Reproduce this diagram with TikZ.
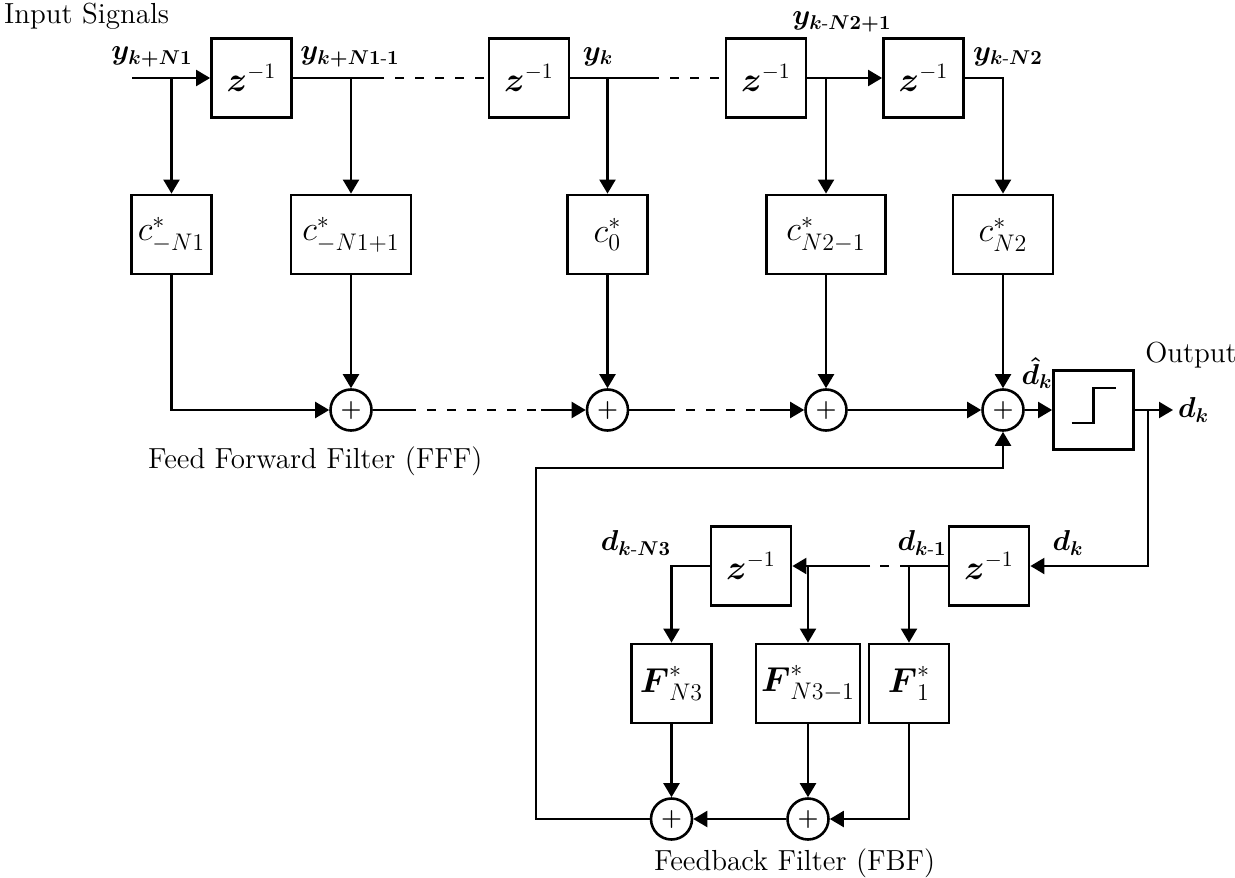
\documentclass[tikz,border=0pt]{standalone}
\usepackage{amsmath}
\usetikzlibrary{arrows.meta}

\begin{document}
\begin{tikzpicture}[
    x=0.5pt, y=-0.5pt,
    line width=1.1pt,
    arr/.style={-{Triangle[length=7pt,width=8pt]}},
    dashline/.style={dash pattern=on 4.5pt off 5.5pt},
    delay/.style={draw, line width=1.4pt, minimum width=40pt, minimum height=39.5pt, inner sep=0pt, font=\fontsize{16}{18}\selectfont},
    coef/.style={delay, minimum width=#1, font=\fontsize{17}{19}\selectfont},
    coef/.default=40pt,
    sum/.style={draw, circle, line width=1.3pt, minimum size=20.5pt, inner sep=0pt, font=\large\boldmath},
    lab/.style={font=\fontsize{14}{16}\selectfont\boldmath, inner sep=1pt},
    txt/.style={font=\fontsize{14.5}{17}\selectfont, inner sep=0pt}
  ]
  \useasboundingbox (0,0) rectangle (1235,877);

  % feed forward delay line
  \coordinate (in) at (132,78);
  \node[delay] (z1) at (251.5,78) {$\boldsymbol{z}^{-1}$};
  \node[delay] (z2) at (529,78) {$\boldsymbol{z}^{-1}$};
  \node[delay] (z3) at (766,78) {$\boldsymbol{z}^{-1}$};
  \node[delay] (z4) at (923.5,78) {$\boldsymbol{z}^{-1}$};
  \coordinate (g1) at (375,78);
  \coordinate (g2) at (650,78);

  % feed forward taps
  \node[coef] (c1) at (171.5,234.5) {$c^{*}_{-N1}$};
  \node[coef=60pt] (c2) at (351,234.5) {$c^{*}_{-N1+1}$};
  \node[coef] (c0) at (607.5,234.5) {$c^{*}_{0}$};
  \node[coef=59.5pt] (c3) at (826,234.5) {$c^{*}_{N2-1}$};
  \node[coef=50pt] (c4) at (1003,234.5) {$c^{*}_{N2}$};

  % summers
  \node[sum] (s1) at (351,410) {$+$};
  \node[sum] (s2) at (607.5,410) {$+$};
  \node[sum] (s3) at (826,410) {$+$};
  \node[sum] (s4) at (1003,410) {$+$};
  \coordinate (h1) at (407,410);
  \coordinate (h2) at (541,410);
  \coordinate (h3) at (666,410);
  \coordinate (h4) at (760,410);

  % decision device
  \node[delay] (dec) at (1093.5,410) {};
  \draw[line width=1.3pt, shift={(dec.center)}] (-22,13) -- (0,13) -- (0,-22) -- (22,-22);
  \coordinate (out) at (1173,410);
  \coordinate (fbt) at (1148,410);

  % feedback filter
  \node[delay] (fz1) at (989,566) {$\boldsymbol{z}^{-1}$};
  \node[delay] (fz2) at (751,566) {$\boldsymbol{z}^{-1}$};
  \coordinate (t1) at (909,566);
  \coordinate (e1) at (870,566);
  \coordinate (t2) at (808,566);
  \node[coef] (F3) at (671.5,683.5) {$\boldsymbol{F}^{*}_{N3}$};
  \node[coef=52pt] (F2) at (808,683.5) {$\boldsymbol{F}^{*}_{N3-1}$};
  \node[coef] (F1) at (909,683.5) {$\boldsymbol{F}^{*}_{1}$};
  \node[sum] (fs1) at (671.5,819) {$+$};
  \node[sum] (fs2) at (808,819) {$+$};
  \coordinate (fbk) at (536,468);

  % connectors, upper part
  \draw[arr] (in) -- (z1);
  \draw[arr] (c1 |- in) -- (c1);
  \draw (z1) -- (g1);
  \draw[dashline] (g1) -- (z2);
  \draw[arr] (c2 |- z1) -- (c2);
  \draw (z2) -- (g2);
  \draw[dashline] (g2) -- (z3);
  \draw[arr] (c0 |- z2) -- (c0);
  \draw[arr] (z3) -- (z4);
  \draw[arr] (c3 |- z3) -- (c3);
  \draw[arr] (z4) -| (c4);

  \draw[arr] (c1) |- (s1);
  \draw[arr] (c2) -- (s1);
  \draw[arr] (c0) -- (s2);
  \draw[arr] (c3) -- (s3);
  \draw[arr] (c4) -- (s4);
  \draw (s1) -- (h1);
  \draw[dashline] (h1) -- (h2);
  \draw[arr] (h2) -- (s2);
  \draw (s2) -- (h3);
  \draw[dashline] (h3) -- (h4);
  \draw[arr] (h4) -- (s3);
  \draw[arr] (s3) -- (s4);
  \draw[arr] (s4) -- (dec);
  \draw[arr] (dec) -- (out);

  % connectors, lower part
  \draw[arr] (fbt) |- (fz1);
  \draw (fz1) -- (t1);
  \draw[dashline] (t1) -- (e1);
  \draw[arr] (e1) -- (fz2);
  \draw[arr] (t1) -- (F1);
  \draw[arr] (t2) -- (F2);
  \draw[arr] (fz2) -| (F3);
  \draw[arr] (F3) -- (fs1);
  \draw[arr] (F2) -- (fs2);
  \draw[arr] (F1) |- (fs2);
  \draw[arr] (fs2) -- (fs1);
  \draw[arr] (fs1) -| (fbk) -| (s4);

  % labels
  \node[txt, anchor=west] (insig) at (3,16) {Input Signals};
  \node[lab] (ly1) at (152,57) {$y_{k+N1}$};
  \node[lab] (ly2) at (350,57) {$y_{k+N1\text{-}1}$};
  \node[lab] (ly3) at (598,57) {$y_{k}$};
  \node[lab] (ly4) at (842,22) {$y_{k\text{-}N2+1}$};
  \node[lab] (ly5) at (1008,57) {$y_{k\text{-}N2}$};
  \node[lab] (ldh) at (1037,373) {$\hat{d}_{k}$};
  \node[txt] (lout) at (1191,355) {Output};
  \node[lab, anchor=west] (ldo) at (1175,410) {$d_{k}$};
  \node[lab] (ld3) at (636,543) {$d_{k\text{-}N3}$};
  \node[lab] (ld1) at (922,543) {$d_{k\text{-}1}$};
  \node[lab] (ldk) at (1068,543) {$d_{k}$};
  \node[txt, anchor=west] (lfff) at (147,461) {Feed Forward Filter (FFF)};
  \node[txt, anchor=west] (lfbf) at (653,863) {Feedback Filter (FBF)};
\end{tikzpicture}
\end{document}
